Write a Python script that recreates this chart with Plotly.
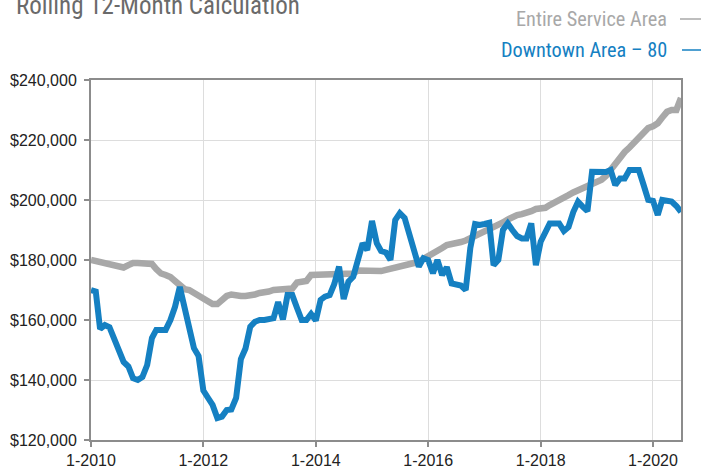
import pandas as pd
import plotly.graph_objects as go

# Monthly dates Jan 2010 .. Jul 2020
months = pd.date_range("2010-01-01", "2020-07-01", freq="MS")

entire_service_area = [
    180, 179.7, 179, 179, 178.6, 178.3, 178, 177.5, 178.3, 179,
    179, 179, 179, 178.7, 177, 175.5, 175, 174.3, 173, 171.5,
    170.3, 170, 169, 168, 167.3, 166.5, 165.3, 165.3, 166.5, 168,
    168.5, 168, 168, 168, 168, 168.5, 169, 169, 169.5, 170,
    170, 170, 170, 170.5, 172.5, 173, 173, 175, 175, 175,
    175, 175, 175, 175, 175, 175.3, 175.5, 176.5, 176.5, 176,
    176, 176, 176.3, 176.7, 177, 177.5, 178, 178.3, 178.6, 179,
    179.5, 180.3, 181, 182, 183, 184, 185, 185.2, 185.4, 186,
    186.5, 187.2, 188, 188.9, 189.5, 190, 190.6, 191.5, 192.5, 193.5,
    194.3, 195, 195.3, 195.6, 196.3, 197, 197.3, 197.4, 198.3, 199.3,
    200, 200.8, 201.6, 202.5, 203.2, 203.8, 204.4, 205.3, 206.2, 206.8,
    208, 210, 212.5, 214.5, 216, 217.5, 219, 221, 222.5, 224,
    224.6, 225.6, 227.5, 229.4, 230, 230, 234,
]

downtown_area_80 = [
    170, 169.5, 157, 158.3, 157.6, 153.5, 149, 146, 144.5, 140.6,
    140, 141, 145, 154, 156.7, 156.7, 156.7, 160, 164.4, 171,
    164.4, 157, 150.6, 148, 136.5, 134, 131.7, 127.3, 127.8, 130,
    130.2, 134, 147, 150.5, 157.8, 159.4, 160, 160, 160.3, 160.6,
    166, 160.2, 168.3, 168.3, 164, 160, 160, 162, 159.8, 166.7,
    167.8, 168.3, 172, 177.8, 167, 172.8, 174.4, 180, 185.6, 183.3,
    193, 185.6, 183, 182.5, 180, 193.3, 195.6, 194, 188, 182,
    177.8, 180.6, 180, 175.6, 180, 175, 177.6, 172.2, 172, 171.5,
    170, 184, 192, 191.7, 192, 192.4, 178.3, 180, 190, 192.2,
    190, 188, 187.2, 187.2, 192.2, 178.3, 186.1, 189.4, 192.2, 192.2,
    192.2, 189.7, 191, 196, 199.4, 197.8, 196.3, 209.4, 209.2, 209.2,
    209.3, 210, 205, 207.2, 207.2, 210, 210, 210, 205, 200,
    199.7, 195, 200, 200, 199.5, 198, 196,
]

tick_dates = ["2010-01-01", "2012-01-01", "2014-01-01", "2016-01-01", "2018-01-01", "2020-01-01"]
tick_labels = ["1-2010", "1-2012", "1-2014", "1-2016", "1-2018", "1-2020"]
y_ticks = [120000, 140000, 160000, 180000, 200000, 220000, 240000]
y_tick_labels = ["$120,000", "$140,000", "$160,000", "$180,000", "$200,000", "$220,000", "$240,000"]

GRAY = "#a8a8a8"
BLUE = "#1580c2"
NARROW = "Liberation Sans Narrow, Arial Narrow, Roboto Condensed, Liberation Sans, Arial, sans-serif"

fig = go.Figure()
fig.add_trace(go.Scatter(
    x=months, y=[v * 1000 for v in entire_service_area], mode="lines",
    line=dict(color=GRAY, width=6.5), name="Entire Service Area", showlegend=False,
))
fig.add_trace(go.Scatter(
    x=months, y=[v * 1000 for v in downtown_area_80], mode="lines",
    line=dict(color=BLUE, width=6), name="Downtown Area \u2013 80", showlegend=False,
))

L, R, T, B = 91, 20, 80, 26
W, H = 701, 466
pw, ph = W - L - R, H - T - B

def px(x):
    return (x - L) / pw

def py(y):
    return (H - B - y) / ph

fig.add_annotation(text="Rolling 12-Month Calculation", xref="paper", yref="paper",
                   x=px(14), y=py(22), xanchor="left", yanchor="bottom", showarrow=False,
                   font=dict(family=NARROW, size=25, color="#6a6a6a"))
fig.add_annotation(text="Entire Service Area", xref="paper", yref="paper",
                   x=px(669), y=py(19), xanchor="right", yanchor="middle", showarrow=False,
                   font=dict(family=NARROW, size=20.3, color=GRAY))
fig.add_annotation(text="Downtown Area \u2013 80", xref="paper", yref="paper",
                   x=px(669), y=py(50), xanchor="right", yanchor="middle", showarrow=False,
                   font=dict(family=NARROW, size=20.3, color=BLUE))
fig.add_shape(type="line", xref="paper", yref="paper", x0=px(680), x1=px(701), y0=py(19), y1=py(19),
              line=dict(color=GRAY, width=1.5))
fig.add_shape(type="line", xref="paper", yref="paper", x0=px(682), x1=px(701), y0=py(50), y1=py(50),
              line=dict(color=BLUE, width=1.5))

fig.update_layout(
    width=W, height=H,
    margin=dict(l=L, r=R, t=T, b=B, autoexpand=False),
    plot_bgcolor="white", paper_bgcolor="white",
    font=dict(family="Liberation Sans, Arial, sans-serif", size=16, color="#222222"),
)
fig.update_xaxes(
    type="date", range=["2010-01-01", "2020-07-01"],
    tickvals=tick_dates, ticktext=tick_labels,
    showgrid=True, gridcolor="#dddddd", gridwidth=1.3,
    showline=True, linecolor="#8c8c8c", linewidth=2, mirror=True,
    ticks="outside", ticklen=5, tickcolor="#8c8c8c", tickwidth=1.5,
    zeroline=False, ticklabelstandoff=0, automargin=False,
)
fig.update_yaxes(
    range=[120000, 240000],
    tickvals=y_ticks, ticktext=y_tick_labels,
    showgrid=True, gridcolor="#dddddd", gridwidth=1.3,
    showline=True, linecolor="#8c8c8c", linewidth=2, mirror=True,
    ticks="outside", ticklen=5, tickcolor="#8c8c8c", tickwidth=1.5,
    zeroline=False, ticklabelstandoff=4, automargin=False,
)

fig.write_html(
    "out.html",
    config={"responsive": False, "displayModeBar": False},
    post_script="document.body.style.margin='0';document.documentElement.style.overflow='hidden';",
)
